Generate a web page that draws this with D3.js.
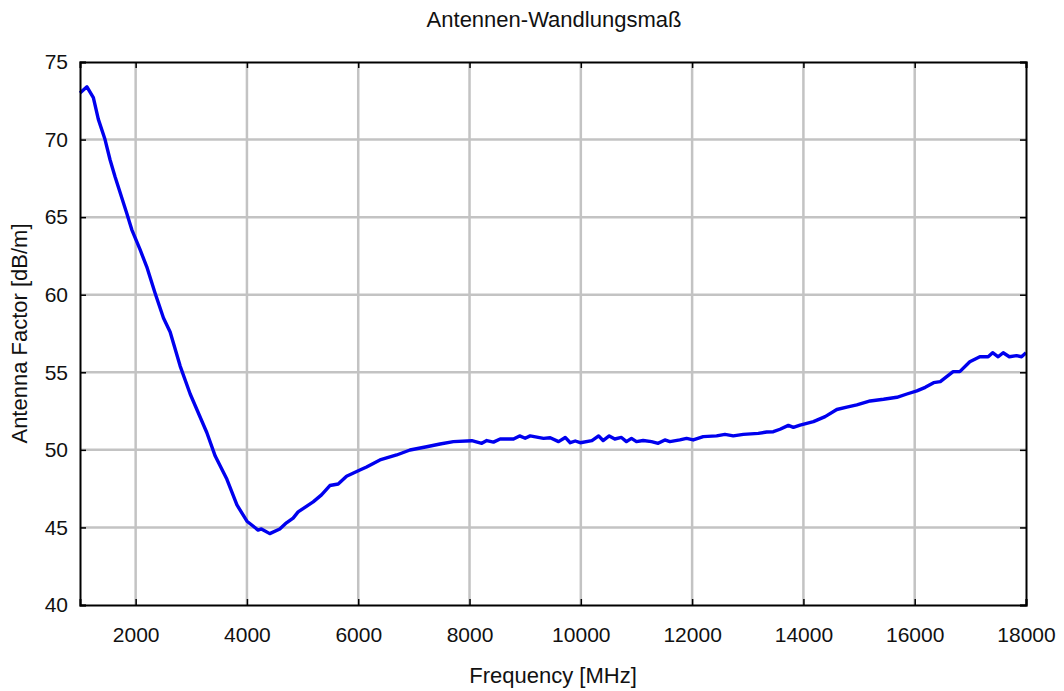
<!DOCTYPE html>
<html>
<head>
<meta charset="utf-8">
<script src="https://cdn.jsdelivr.net/npm/d3@7"></script>
<style>
  html, body { margin: 0; padding: 0; background: #fff; }
  text { font-family: "Liberation Sans", Arial, sans-serif; fill: #111; }
</style>
</head>
<body>
<svg id="chart" width="1064" height="691"></svg>
<script>
const title = "Antennen-Wandlungsmaß";
const xLabel = "Frequency [MHz]";
const yLabel = "Antenna Factor [dB/m]";
const xTicks = [2000, 4000, 6000, 8000, 10000, 12000, 14000, 16000, 18000];
const yTicks = [40, 45, 50, 55, 60, 65, 70, 75];

const frequency = [1000, 1125, 1240, 1330, 1450, 1540, 1630, 1840, 1930, 2080, 2200, 2350, 2500, 2620, 2800, 2980, 3100, 3280, 3430, 3640, 3820, 4000, 4200, 4260, 4410, 4590, 4710, 4830, 4920, 5190, 5340, 5490, 5640, 5790, 6030, 6150, 6390, 6690, 6930, 7230, 7470, 7710, 8040, 8220, 8310, 8430, 8550, 8790, 8900, 9000, 9090, 9330, 9450, 9600, 9720, 9810, 9900, 9990, 10200, 10320, 10400, 10510, 10610, 10730, 10820, 10910, 11000, 11120, 11270, 11390, 11510, 11600, 11780, 11900, 12020, 12200, 12440, 12590, 12740, 12920, 13190, 13340, 13460, 13580, 13730, 13820, 13940, 14180, 14390, 14600, 14780, 14960, 15200, 15440, 15680, 15860, 16040, 16190, 16340, 16460, 16690, 16810, 16990, 17170, 17320, 17400, 17500, 17590, 17700, 17830, 17920, 18000];
const factor = [73.0, 73.4, 72.7, 71.3, 70.0, 68.7, 67.6, 65.25, 64.2, 62.9, 61.8, 60.1, 58.5, 57.6, 55.4, 53.6, 52.6, 51.1, 49.6, 48.1, 46.45, 45.4, 44.83, 44.9, 44.6, 44.9, 45.3, 45.6, 46.0, 46.65, 47.1, 47.7, 47.8, 48.3, 48.7, 48.9, 49.35, 49.67, 49.99, 50.2, 50.38, 50.53, 50.59, 50.42, 50.6, 50.5, 50.7, 50.7, 50.9, 50.75, 50.9, 50.74, 50.78, 50.53, 50.8, 50.46, 50.57, 50.46, 50.6, 50.9, 50.6, 50.9, 50.7, 50.8, 50.53, 50.74, 50.53, 50.6, 50.53, 50.42, 50.64, 50.53, 50.64, 50.74, 50.64, 50.85, 50.9, 51.0, 50.9, 51.0, 51.06, 51.15, 51.17, 51.33, 51.58, 51.45, 51.6, 51.82, 52.14, 52.6, 52.75, 52.9, 53.15, 53.26, 53.39, 53.6, 53.8, 54.03, 54.33, 54.4, 55.04, 55.04, 55.68, 56.0, 56.0, 56.26, 56.0, 56.26, 56.0, 56.07, 56.0, 56.26];

const W = 1064, H = 691;
const margin = {left: 80, right: 38, top: 62, bottom: 86};
const svg = d3.select("#chart");
const x = d3.scaleLinear().domain([1000, 18000]).range([margin.left, W - margin.right]);
const y = d3.scaleLinear().domain([40, 75]).range([H - margin.bottom, margin.top]);

// grid
const grid = svg.append("g");
grid.selectAll("line.vx").data(xTicks.filter(d => d < 18000)).join("line")
  .attr("x1", d => x(d)).attr("x2", d => x(d))
  .attr("y1", y(40)).attr("y2", y(75))
  .attr("stroke", "#c3c3c3").attr("stroke-width", 2.5);
grid.selectAll("line.hy").data(yTicks.filter(d => d > 40 && d < 75)).join("line")
  .attr("x1", x(1000)).attr("x2", x(18000))
  .attr("y1", d => y(d)).attr("y2", d => y(d))
  .attr("stroke", "#c3c3c3").attr("stroke-width", 2.5);

// line
svg.append("path").datum(frequency.map((f, i) => [f, factor[i]]))
  .attr("fill", "none").attr("stroke", "#0000ee").attr("stroke-width", 3.4)
  .attr("stroke-linejoin", "round")
  .attr("d", d3.line().x(d => x(d[0])).y(d => y(d[1])));

// axes with inward ticks
const fs = "21px";
const fmt = d3.format("d");
const gBottom = svg.append("g").attr("transform", `translate(0,${y(40)})`)
  .call(d3.axisBottom(x).tickValues(xTicks).tickFormat(fmt).tickSize(-6).tickPadding(22));
const gTop = svg.append("g").attr("transform", `translate(0,${y(75)})`)
  .call(d3.axisTop(x).tickValues(xTicks).tickSize(-6).tickFormat(""));
const gLeft = svg.append("g").attr("transform", `translate(${x(1000)},0)`)
  .call(d3.axisLeft(y).tickValues(yTicks).tickFormat(fmt).tickSize(-6).tickPadding(12));
const gRight = svg.append("g").attr("transform", `translate(${x(18000)},0)`)
  .call(d3.axisRight(y).tickValues(yTicks).tickSize(-6).tickFormat(""));
[gBottom, gTop, gLeft, gRight].forEach(g => {
  g.select(".domain").attr("stroke", "#000").attr("stroke-width", 2);
  g.selectAll(".tick line").attr("stroke", "#000").attr("stroke-width", 1.5);
  g.selectAll("text").style("font-family", "'Liberation Sans', Arial, sans-serif").style("font-size", fs).attr("fill", "#111");
});

svg.append("text").attr("x", 554).attr("y", 27).attr("text-anchor", "middle")
  .style("font-size", "22px").text(title);
svg.append("text").attr("x", 553).attr("y", 683).attr("text-anchor", "middle")
  .style("font-size", "22px").text(xLabel);
svg.append("text").attr("transform", `translate(27,${(y(40) + y(75)) / 2}) rotate(-90)`)
  .attr("text-anchor", "middle").style("font-size", "22px").text(yLabel);
</script>
</body>
</html>
